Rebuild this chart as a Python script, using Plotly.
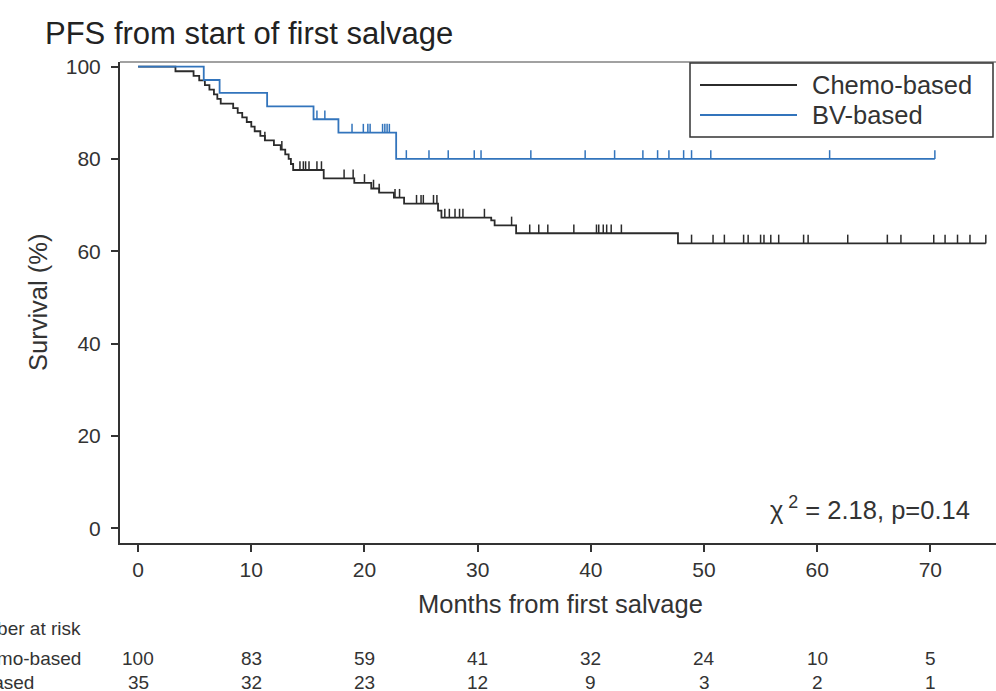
import numpy as np
import plotly.graph_objects as go

# Kaplan-Meier step data (months, survival %) read per arm
chemo_event_months = [3.3, 4.9, 5.4, 5.9, 6.3, 6.7, 7.0, 7.3, 8.4, 8.8, 9.2, 9.6, 10.0,
                      10.3, 10.8, 11.2, 12.0, 12.6, 13.0, 13.3, 13.5, 13.7, 16.4, 19.1,
                      20.6, 21.3, 22.6, 23.5, 26.5, 26.8, 31.2, 31.5, 33.4, 47.7]
chemo_survival = [99, 98, 97, 96, 95, 94, 93, 92, 91, 90, 89, 88, 87,
                  86, 85, 84, 83, 82, 81, 80, 78.9, 77.6, 75.8, 74.8,
                  73.6, 72.7, 71.6, 70.3, 68.8, 67.3, 66.7, 65.6, 63.9, 61.7]
chemo_censored = [11.2, 12.7, 14.3, 14.6, 14.8, 15.1, 15.8, 16.2, 18.2, 19.0, 20.0, 20.8,
                  21.3, 22.7, 23.1, 24.6, 25.0, 25.2, 26.1, 26.4, 27.1, 27.5, 28.0, 28.4,
                  28.7, 30.6, 33.0, 34.6, 35.4, 36.2, 38.5, 40.5, 40.7, 41.1, 41.4, 41.8,
                  42.7, 48.9, 50.8, 51.8, 53.5, 53.9, 55.0, 55.3, 55.9, 56.6, 58.8, 59.2,
                  62.7, 66.2, 67.4, 70.3, 71.3, 72.4, 73.5, 74.9]
chemo_last_month = 74.9

bv_event_months = [5.8, 7.2, 11.4, 15.5, 17.7, 22.8]
bv_survival = [97.1, 94.3, 91.4, 88.6, 85.7, 80.0]
bv_censored = [15.8, 16.5, 18.9, 19.9, 20.3, 20.5, 21.6, 21.8, 22.0, 22.2, 23.7, 25.7,
               27.4, 29.7, 30.3, 34.7, 39.5, 42.1, 44.6, 45.9, 46.9, 48.2, 48.9, 50.6,
               61.1, 70.4]
bv_last_month = 70.4

# Number-at-risk table
risk_months = [0, 10, 20, 30, 40, 50, 60, 70]
chemo_at_risk = [100, 83, 59, 41, 32, 24, 10, 5]
bv_at_risk = [35, 32, 23, 12, 9, 3, 2, 1]

group_names = ["Chemo-based", "BV-based"]
chi2_text = "χ<sup> 2</sup> = 2.18, p=0.14"

CHEMO_COLOR = "#2b2b2b"
BV_COLOR = "#3274bc"
TEXT_COLOR = "#333333"
FONT = "Liberation Sans, Arial, sans-serif"

# plotting area in pixels (used to place paper-referenced decorations)
L, R, T, B = 120, 996, 62, 543


def px_x(p):
    return (p - L) / (R - L)


def px_y(p):
    return (B - p) / (B - T)


def step_curve(event_t, event_s, last_t):
    xs = [0.0] + list(event_t) + [last_t]
    ys = [100.0] + list(event_s) + [event_s[-1]]
    return xs, ys


def censor_ticks(event_t, event_s, cens_t, height=1.9):
    st = np.array([0.0] + list(event_t))
    ss = np.array([100.0] + list(event_s))
    idx = np.searchsorted(st, np.array(cens_t), side="right") - 1
    xs, ys = [], []
    for t, s in zip(cens_t, ss[idx]):
        xs += [t, t, None]
        ys += [s, s + height, None]
    return xs, ys


fig = go.Figure()

arms = [
    (group_names[0], chemo_event_months, chemo_survival, chemo_censored, chemo_last_month, CHEMO_COLOR),
    (group_names[1], bv_event_months, bv_survival, bv_censored, bv_last_month, BV_COLOR),
]
for name, ev_t, ev_s, cens, last, color in arms:
    cx, cy = step_curve(ev_t, ev_s, last)
    fig.add_trace(go.Scatter(x=cx, y=cy, mode="lines", line=dict(color=color, width=1.8, shape="hv"),
                             name=name, showlegend=False, hoverinfo="skip"))
    tx, ty = censor_ticks(ev_t, ev_s, cens)
    fig.add_trace(go.Scatter(x=tx, y=ty, mode="lines", line=dict(color=color, width=1.5),
                             showlegend=False, hoverinfo="skip"))

axis_common = dict(
    showgrid=False, zeroline=False, showline=True, linecolor="#333333", linewidth=2,
    ticks="outside", ticklen=7, tickwidth=1.5, tickcolor="#333333",
    tickfont=dict(family=FONT, size=21, color=TEXT_COLOR),
)

fig.update_layout(
    width=996, height=691,
    margin=dict(l=L, r=996 - R, t=T, b=691 - B),
    paper_bgcolor="white", plot_bgcolor="white",
    xaxis=dict(range=[-1.6, 75.8], tickvals=risk_months, **axis_common),
    yaxis=dict(range=[-3.2, 101.0], tickvals=[0, 20, 40, 60, 80, 100], ticklabelstandoff=6, **axis_common),
    showlegend=False,
    font=dict(family=FONT, color=TEXT_COLOR),
)

shapes = [
    # top border of the plotting frame
    dict(type="line", xref="paper", yref="paper", x0=0, x1=1, y0=1, y1=1,
         line=dict(color="#444444", width=1.2)),
    # legend box
    dict(type="rect", xref="paper", yref="paper", x0=px_x(690), x1=px_x(993), y0=px_y(137), y1=px_y(63),
         line=dict(color="#333333", width=1.5), fillcolor="white"),
]
annotations = []
for (name, _, _, _, _, color), row_y in zip(arms, [85, 115]):
    shapes.append(dict(type="line", xref="paper", yref="paper", x0=px_x(700), x1=px_x(797),
                       y0=px_y(row_y), y1=px_y(row_y), line=dict(color=color, width=2.2)))
    annotations.append(dict(text=name, xref="paper", yref="paper", x=px_x(810), y=px_y(row_y),
                            xanchor="left", yanchor="middle", showarrow=False,
                            font=dict(family=FONT, size=25.5, color=TEXT_COLOR)))

annotations += [
    dict(text="PFS from start of first salvage", xref="paper", yref="paper", x=px_x(43), y=px_y(33),
         xanchor="left", yanchor="middle", showarrow=False,
         font=dict(family=FONT, size=31, color="#222222")),
    dict(text="Months from first salvage", xref="paper", yref="paper", x=px_x(560), y=px_y(604),
         xanchor="center", yanchor="middle", showarrow=False,
         font=dict(family=FONT, size=25.5, color=TEXT_COLOR)),
    dict(text="Survival (%)", xref="paper", yref="paper", x=px_x(38), y=px_y(303), textangle=-90,
         xanchor="center", yanchor="middle", showarrow=False,
         font=dict(family=FONT, size=25.5, color=TEXT_COLOR)),
    dict(text=chi2_text, xref="paper", yref="paper", x=px_x(972), y=px_y(508),
         xanchor="right", yanchor="middle", showarrow=False,
         font=dict(family=FONT, size=25.5, color=TEXT_COLOR)),
    dict(text="Number at risk", xref="paper", yref="paper", x=px_x(-45), y=px_y(628),
         xanchor="left", yanchor="middle", showarrow=False,
         font=dict(family=FONT, size=19, color=TEXT_COLOR)),
]
for label, counts, row_y, left in [(group_names[0], chemo_at_risk, 658, -40),
                                   (group_names[1], bv_at_risk, 682, -50)]:
    annotations.append(dict(text=label, xref="paper", yref="paper", x=px_x(left), y=px_y(row_y),
                            xanchor="left", yanchor="middle", showarrow=False,
                            font=dict(family=FONT, size=19, color=TEXT_COLOR)))
    for m, n in zip(risk_months, counts):
        annotations.append(dict(text=str(n), xref="x", yref="paper", x=m, y=px_y(row_y),
                                xanchor="center", yanchor="middle", showarrow=False,
                                font=dict(family=FONT, size=19, color=TEXT_COLOR)))
fig.update_layout(shapes=shapes, annotations=annotations)

fig.write_html("out.html")
